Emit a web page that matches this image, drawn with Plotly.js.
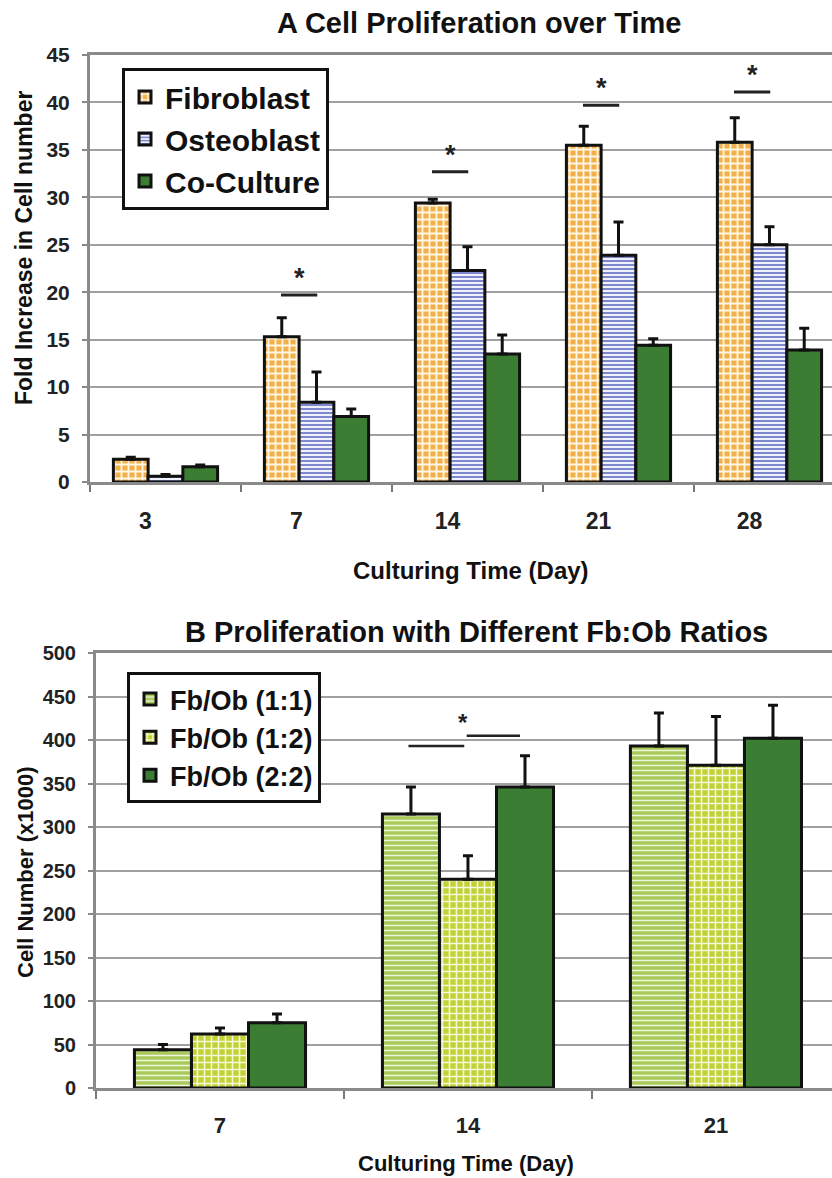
<!DOCTYPE html>
<html>
<head>
<meta charset="utf-8">
<script src="https://cdn.plot.ly/plotly-3.0.1.min.js"></script>
<style>html,body{margin:0;padding:0;background:#fff}#chart{width:832px;height:1178px}</style>
</head>
<body>
<div id="chart"></div>
<script>
// ---------- Panel A data ----------
const daysA = ['3', '7', '14', '21', '28'];
const fibroblast = [2.4, 15.3, 29.4, 35.5, 35.8];
const fibroblastErr = [0.2, 2.0, 0.4, 2.0, 2.6];
const osteoblast = [0.6, 8.4, 22.3, 23.9, 25.0];
const osteoblastErr = [0.2, 3.2, 2.5, 3.5, 1.9];
const coculture = [1.6, 6.9, 13.5, 14.4, 13.9];
const cocultureErr = [0.2, 0.8, 2.0, 0.7, 2.3];
const sigDaysA = ['7', '14', '21', '28'];
const sigLevelA = [19.7, 32.7, 39.7, 41.1];

// ---------- Panel B data ----------
const daysB = ['7', '14', '21'];
const ratio11 = [44, 315, 393];
const ratio11Err = [6, 31, 38];
const ratio12 = [62, 240, 371];
const ratio12Err = [7, 27, 56];
const ratio22 = [75, 346, 402];
const ratio22Err = [10, 36, 38];
const sigLevelB = [393, 405];

const FONT = 'Liberation Sans, Arial, sans-serif';
const W = 832, H = 1178;
const px = v => v / W;
const py = v => 1 - v / H;

function errPlus(arr) {
  return {type: 'data', array: arr, arrayminus: arr.map(() => 0), symmetric: false,
          visible: true, color: '#111', thickness: 3, width: 5};
}
const outline = {color: '#111', width: 3};

const traces = [
  {type: 'bar', name: 'Fibroblast', x: daysA, y: fibroblast, xaxis: 'x', yaxis: 'y', legend: 'legend',
   error_y: errPlus(fibroblastErr),
   marker: {color: '#f7c77c', line: outline,
            pattern: {shape: '+', fgcolor: '#fff6e6', bgcolor: '#f2b04a', size: 7, solidity: 0.45, fillmode: 'replace'}}},
  {type: 'bar', name: 'Osteoblast', x: daysA, y: osteoblast, xaxis: 'x', yaxis: 'y', legend: 'legend',
   error_y: errPlus(osteoblastErr),
   marker: {color: '#c4c8ee', line: outline,
            pattern: {shape: '-', fgcolor: '#7f88cc', bgcolor: '#eef0fb', size: 4, solidity: 0.5, fillmode: 'replace'}}},
  {type: 'bar', name: 'Co-Culture', x: daysA, y: coculture, xaxis: 'x', yaxis: 'y', legend: 'legend',
   error_y: errPlus(cocultureErr),
   marker: {color: '#3b7d33', line: outline}},
  {type: 'bar', name: 'Fb/Ob (1:1)', x: daysB, y: ratio11, xaxis: 'x2', yaxis: 'y2', legend: 'legend2',
   error_y: errPlus(ratio11Err),
   marker: {color: '#b3d068', line: outline,
            pattern: {shape: '-', fgcolor: '#eef6dc', bgcolor: '#a9c95a', size: 5, solidity: 0.3, fillmode: 'replace'}}},
  {type: 'bar', name: 'Fb/Ob (1:2)', x: daysB, y: ratio12, xaxis: 'x2', yaxis: 'y2', legend: 'legend2',
   error_y: errPlus(ratio12Err),
   marker: {color: '#d0dc55', line: outline,
            pattern: {shape: '+', fgcolor: '#f6f8dc', bgcolor: '#c2d234', size: 7, solidity: 0.4, fillmode: 'replace'}}},
  {type: 'bar', name: 'Fb/Ob (2:2)', x: daysB, y: ratio22, xaxis: 'x2', yaxis: 'y2', legend: 'legend2',
   error_y: errPlus(ratio22Err),
   marker: {color: '#3b7d33', line: outline}}
];

const shapes = [];
const annotations = [];
const catIndexA = d => daysA.indexOf(d);
sigDaysA.forEach((d, i) => {
  const c = catIndexA(d);
  shapes.push({type: 'line', xref: 'x', yref: 'y', x0: c - 0.235, x1: c + 0.005,
               y0: sigLevelA[i], y1: sigLevelA[i], line: {color: '#222', width: 3}});
  annotations.push({xref: 'x', yref: 'y', x: c - 0.115, y: sigLevelA[i], yanchor: 'bottom', yshift: 0,
                    text: '*', showarrow: false, font: {family: FONT, size: 27, weight: 'bold', color: '#222'}});
});
// Panel B significance (day 14)
const c14 = daysB.indexOf('14');
shapes.push({type: 'line', xref: 'x2', yref: 'y2', x0: c14 - 0.24, x1: c14 - 0.015,
             y0: sigLevelB[0], y1: sigLevelB[0], line: {color: '#222', width: 2.5}});
shapes.push({type: 'line', xref: 'x2', yref: 'y2', x0: c14 - 0.005, x1: c14 + 0.21,
             y0: sigLevelB[1], y1: sigLevelB[1], line: {color: '#222', width: 2.5}});
annotations.push({xref: 'x2', yref: 'y2', x: c14 - 0.02, y: sigLevelB[1], yanchor: 'bottom', yshift: -2,
                  text: '*', showarrow: false, font: {family: FONT, size: 24, weight: 'bold', color: '#222'}});

// Titles
const titleFont = s => ({family: FONT, size: s, weight: 'bold', color: '#111'});
annotations.push({xref: 'paper', yref: 'paper', x: px(480), y: py(23), text: 'A Cell Proliferation over Time',
                  showarrow: false, font: titleFont(29), xanchor: 'center', yanchor: 'middle'});
annotations.push({xref: 'paper', yref: 'paper', x: px(476), y: py(632), text: 'B Proliferation with Different Fb:Ob Ratios',
                  showarrow: false, font: titleFont(29), xanchor: 'center', yanchor: 'middle'});
annotations.push({xref: 'paper', yref: 'paper', x: px(471), y: py(570), text: 'Culturing Time (Day)',
                  showarrow: false, font: titleFont(24), xanchor: 'center', yanchor: 'middle'});
annotations.push({xref: 'paper', yref: 'paper', x: px(466), y: py(1163), text: 'Culturing Time (Day)',
                  showarrow: false, font: titleFont(22), xanchor: 'center', yanchor: 'middle'});
annotations.push({xref: 'paper', yref: 'paper', x: px(24), y: py(248), text: 'Fold Increase in Cell number',
                  textangle: -90, showarrow: false, font: titleFont(23), xanchor: 'center', yanchor: 'middle'});
annotations.push({xref: 'paper', yref: 'paper', x: px(25), y: py(872), text: 'Cell Number (x1000)',
                  textangle: -90, showarrow: false, font: titleFont(22), xanchor: 'center', yanchor: 'middle'});

const tickFont = s => ({family: FONT, size: s, weight: 'bold', color: '#222'});
const frame = {showline: true, linecolor: '#8a8a8a', linewidth: 3};

const layout = {
  width: W, height: H,
  margin: {l: 0, r: 0, t: 0, b: 0},
  paper_bgcolor: '#fff', plot_bgcolor: '#fff',
  barmode: 'group', bargap: 0.31, bargroupgap: 0,
  font: {family: FONT},
  xaxis: Object.assign({}, frame, {
    domain: [px(90), 1], anchor: 'y', type: 'category', range: [-0.5, 4.414],
    tickson: 'boundaries', ticks: 'outside', ticklen: 7, tickwidth: 1.5, tickcolor: '#777',
    mirror: true, showgrid: false, tickfont: tickFont(23), ticklabelshift: -20, ticklabelstandoff: 16
  }),
  yaxis: Object.assign({}, frame, {
    domain: [py(482), py(55)], anchor: 'x', range: [0, 45], dtick: 5,
    showgrid: true, gridcolor: '#a0a0a0', gridwidth: 1.6, zeroline: false,
    ticks: 'outside', ticklen: 5, tickwidth: 1.5, tickcolor: '#888',
    tickfont: tickFont(21), ticklabelstandoff: 8
  }),
  xaxis2: Object.assign({}, frame, {
    domain: [px(96), 1], anchor: 'y2', type: 'category', range: [-0.5, 2.468],
    tickson: 'boundaries', ticks: 'outside', ticklen: 8, tickwidth: 1.5, tickcolor: '#777',
    mirror: true, showgrid: false, tickfont: tickFont(22), ticklabelstandoff: 16
  }),
  yaxis2: Object.assign({}, frame, {
    domain: [py(1088), py(653)], anchor: 'x2', range: [0, 500], dtick: 50,
    showgrid: true, gridcolor: '#a0a0a0', gridwidth: 1.6, zeroline: false,
    ticks: 'outside', ticklen: 5, tickwidth: 1.5, tickcolor: '#888',
    tickfont: tickFont(20), ticklabelstandoff: 8
  }),
  legend: {x: px(122), y: py(68), xanchor: 'left', yanchor: 'top', bgcolor: '#fff',
           bordercolor: '#111', borderwidth: 3, font: {family: FONT, size: 30, weight: 'bold', color: '#111'},
           traceorder: 'normal', itemclick: false},
  legend2: {x: px(127), y: py(672), xanchor: 'left', yanchor: 'top', bgcolor: '#fff',
            bordercolor: '#111', borderwidth: 3, font: {family: FONT, size: 27, weight: 'bold', color: '#111'},
            traceorder: 'normal', itemclick: false},
  shapes: shapes,
  annotations: annotations
};

Plotly.newPlot('chart', traces, layout, {displayModeBar: false, responsive: false});
</script>
</body>
</html>
